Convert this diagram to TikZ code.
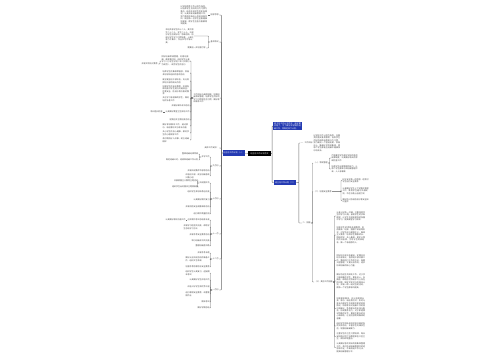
\documentclass[tikz,border=0pt]{standalone}
\usepackage{fontspec}
\setmainfont{Noto Sans CJK SC}
\XeTeXlinebreaklocale "zh"
\XeTeXlinebreakskip = 0pt plus 0.5pt
\definecolor{mapblue}{RGB}{36,58,178}
\definecolor{mapgray}{RGB}{70,70,70}
\definecolor{mapline}{RGB}{105,105,105}
\newcommand{\mapfont}{\fontsize{2}{2.5}\selectfont}
\begin{document}
\begin{tikzpicture}[x=1pt,y=-1pt]
        \tikzstyle{plan}=[fill=black,text=white,font=\mapfont,minimum width=23pt,minimum height=5pt,inner sep=0.5pt]
        \tikzstyle{part}=[fill=mapblue,text=white,font=\mapfont,minimum height=5.5pt,inner sep=1pt,align=left]
        \tikzstyle{item}=[text=mapgray,font=\mapfont,inner sep=0.3pt,align=left]
        \tikzstyle{lft}=[item,anchor=east]
        \tikzstyle{rgt}=[item,anchor=west]
        \tikzstyle{edge}=[draw=mapline,line width=0.45pt,rounded corners=0.5pt]
        \useasboundingbox (0,0) rectangle (500,360);
       \begin{scope}
         \node [plan] (root) at (259.5,153.5) {班主任工作计划范文};
         \node [part] (l0) at (233.5,153) {班主任工作计划（一）};
         \node [part,anchor=west,text width=27pt] (r0a) at (273,126) {班主任工作计划范文：新学期开始了，为了做好本学期的班级工作，特制定如下计划。};
         \node [part,anchor=west] (r0b) at (274,182.5) {班主任工作计划（二）};
         \path[edge] (root) -- (l0);
         \path[edge] (root.east) -- ++(1,0) |- (r0a.west);
         \path[edge] (root.east) -- ++(1,0) |- (r0b.west);
       \end{scope}
       \begin{scope}
         \node [lft] (a1) at (219,15) {指导思想};
         \node [lft] (a2) at (219,42) {基本情况};
         \node [lft,text width=26pt] (a3) at (220,98) {工作目标与具体措施：加强班级常规管理，培养学生良好的学习习惯和生活习惯，做好家校联系工作};
         \node [lft] (a4) at (219,148) {具体工作安排：};
         \node [lft] (a5) at (219,166) {九月份};
         \node [lft] (a6) at (219,199) {十月份};
         \node [lft] (a7) at (219,234) {十一月};
         \node [lft] (a8) at (219,259) {十二月};
         \node [lft] (a9) at (219,290) {一月份};
         \path[edge] (l0.west) -- ++(-1,0) |- (a1.east);
         \path[edge] (l0.west) -- ++(-1,0) |- (a2.east);
         \path[edge] (l0.west) -- ++(-1,0) |- (a3.east);
         \path[edge] (l0.west) -- ++(-1,0) |- (a4.east);
         \path[edge] (l0.west) -- ++(-1,0) |- (a5.east);
         \path[edge] (l0.west) -- ++(-1,0) |- (a6.east);
         \path[edge] (l0.west) -- ++(-1,0) |- (a7.east);
         \path[edge] (l0.west) -- ++(-1,0) |- (a8.east);
         \path[edge] (l0.west) -- ++(-1,0) |- (a9.east);

         \node [lft,text width=27pt] (b1) at (208,15) {以学校德育工作计划为指导，以培养学生良好的行为习惯为重点，结合本班学生的实际情况，认真开展班级管理工作，努力营造积极向上的班风和学风，促进每一位学生全面健康地发展，使学生在各方面都得到提高。};
         \path[edge] (a1.west) -- (b1.east);
         \node [lft,text width=28pt] (b2) at (194,36) {本班共有学生四十二人，其中男生二十二人，女生二十人。大部分学生活泼好动，思维活跃，但部分学生学习习惯较差，上课注意力不集中，作业书写不够认真。};
         \node [lft] (b3) at (206,48) {需要进一步加强引导};
         \path[edge] (a2.west) -- ++(-1.5,0) |- (b2.east);
         \path[edge] (a2.west) -- ++(-1.5,0) |- (b3.east);

         \node [lft,text width=28pt] (c1) at (190,61) {抓好班级常规管理，利用班会课、晨会等时间，组织学生认真学习《小学生守则》和《日常行为规范》，规范学生的言行};
         \node [lft] (c1g) at (158,64) {开展文明礼仪教育};
         \node [lft,text width=27pt] (c2) at (190,73) {培养学生的集体荣誉感，积极参加学校组织的各项活动};
         \node [lft,text width=27pt] (c3) at (190,81) {建立健全班干部队伍，充分发挥班干部的带头作用};
         \node [lft,text width=27pt] (c4) at (190,90) {加强学生的安全教育，利用各种机会对学生进行交通安全、饮食安全、防溺水等方面的教育};
         \node [lft,text width=27pt] (c5) at (190,99) {关注学习有困难的学生，做好培优补差工作};
         \node [lft] (c6) at (190,106) {开展好课外读书活动};
         \node [lft] (c7) at (190,112) {认真做好教室卫生保洁工作};
         \node [lft] (c7g) at (163,112) {每日值日检查};
         \node [lft] (c8) at (190,120) {定期召开主题班会活动};
         \node [lft,text width=27pt] (c9) at (190,126) {做好家校联系工作，通过家访、电话等形式与家长沟通};
         \node [lft,text width=27pt] (c10) at (190,133) {关心学生的身心健康，做好学生的心理疏导工作};
         \node [lft,text width=27pt] (c11) at (190,140) {及时表扬好人好事，树立班级榜样};
         \path[edge] (a3.west) -- ++(-2,0) |- (c1.east);
         \path[edge] (a3.west) -- ++(-2,0) |- (c2.east);
         \path[edge] (a3.west) -- ++(-2,0) |- (c3.east);
         \path[edge] (a3.west) -- ++(-2,0) |- (c4.east);
         \path[edge] (a3.west) -- ++(-2,0) |- (c5.east);
         \path[edge] (a3.west) -- ++(-2,0) |- (c6.east);
         \path[edge] (a3.west) -- ++(-2,0) |- (c7.east);
         \path[edge] (a3.west) -- ++(-2,0) |- (c8.east);
         \path[edge] (a3.west) -- ++(-2,0) |- (c9.east);
         \path[edge] (a3.west) -- ++(-2,0) |- (c10.east);
         \path[edge] (a3.west) -- ++(-2,0) |- (c11.east);
         \path[edge] (c1.west) -- ++(-1,0) |- (c1g.east);
         \path[edge] (c7.west) -- (c7g.east);

         \node [lft] (d1) at (210,157) {开学工作};
         \node [lft] (d1a) at (198.5,154) {整顿班级纪律常规};
         \node [lft] (d1b) at (198.5,160) {制定班级公约、班规和班级工作计划};
         \node [lft] (d2) at (210,170.5) {开展庆祝教师节感恩活动};
         \node [lft,text width=24pt] (d3) at (210,176) {评选班干部，成立班级各种兴趣小组};
         \path[edge] (a5.west) -- ++(-1.5,0) |- (d1.east);
         \path[edge] (a5.west) -- ++(-1.5,0) |- (d2.east);
         \path[edge] (a5.west) -- ++(-1.5,0) |- (d3.east);
         \path[edge] (d1.west) -- ++(-1.5,0) |- (d1a.east);
         \path[edge] (d1.west) -- ++(-1.5,0) |- (d1b.east);

         \node [lft] (e1) at (210,183) {庆祝国庆节};
         \node [lft] (e1a) at (198.5,181) {开展爱国主义教育主题活动};
         \node [lft] (e1b) at (198.5,187) {组织学生出好国庆主题黑板报};
         \node [lft] (e2) at (210,192) {组织学生参加秋季运动会};
         \node [lft] (e3) at (210,200) {认真做好期中复习};
         \node [lft] (e4) at (210,207) {开展消防安全疏散演练活动};
         \node [lft] (e5) at (210,214) {进行期中质量检测};
         \path[edge] (a6.west) -- ++(-1.5,0) |- (e1.east);
         \path[edge] (a6.west) -- ++(-1.5,0) |- (e2.east);
         \path[edge] (a6.west) -- ++(-1.5,0) |- (e3.east);
         \path[edge] (a6.west) -- ++(-1.5,0) |- (e4.east);
         \path[edge] (a6.west) -- ++(-1.5,0) |- (e5.east);
         \path[edge] (e1.west) -- ++(-1.5,0) |- (e1a.east);
         \path[edge] (e1.west) -- ++(-1.5,0) |- (e1b.east);

         \node [lft] (f1) at (210,220) {召开期中考试总结家长会};
         \node [lft] (f1g) at (186,220) {认真做好家校沟通工作};
         \node [lft,text width=26pt] (f2) at (210,227) {开展学习经验交流会，帮助学生总结学习方法};
         \node [lft] (f3) at (210,235) {开展冬季安全教育活动};
         \node [lft] (f4) at (210,241) {举行班级读书交流会};
         \node [lft] (f5) at (210,246) {整理班级图书角};
         \path[edge] (a7.west) -- ++(-1.5,0) |- (f1.east);
         \path[edge] (a7.west) -- ++(-1.5,0) |- (f2.east);
         \path[edge] (a7.west) -- ++(-1.5,0) |- (f3.east);
         \path[edge] (a7.west) -- ++(-1.5,0) |- (f4.east);
         \path[edge] (a7.west) -- ++(-1.5,0) |- (f5.east);
         \path[edge] (f1.west) -- (f1g.east);

         \node [lft] (g1) at (210,253) {开展冬季长跑};
         \node [lft,text width=24pt] (g2) at (210,259.5) {做好元旦庆祝活动的准备工作，组织文艺表演};
         \node [lft] (g3) at (210,267) {加强冬季防寒防冻安全教育};
         \path[edge] (a8.west) -- ++(-1.5,0) |- (g1.east);
         \path[edge] (a8.west) -- ++(-1.5,0) |- (g2.east);
         \path[edge] (a8.west) -- ++(-1.5,0) |- (g3.east);

         \node [lft,text width=24pt] (h1) at (210,273) {组织学生认真复习，迎接期末考试};
         \node [lft] (h2) at (210,280) {认真做好学生评语工作};
         \node [lft] (h3) at (210,287) {评选三好学生和优秀干部};
         \node [lft,text width=24pt] (h4) at (210,294) {进行寒假安全教育，布置寒假作业};
         \node [lft] (h5) at (210,302) {期末考试};
         \node [lft] (h6) at (210,308) {做好学期总结};
         \path[edge] (a9.west) -- ++(-1.5,0) |- (h1.east);
         \path[edge] (a9.west) -- ++(-1.5,0) |- (h2.east);
         \path[edge] (a9.west) -- ++(-1.5,0) |- (h3.east);
         \path[edge] (a9.west) -- ++(-1.5,0) |- (h4.east);
         \path[edge] (a9.west) -- ++(-1.5,0) |- (h5.east);
         \path[edge] (a9.west) -- ++(-1.5,0) |- (h6.east);
       \end{scope}
       \begin{scope}
         \node [rgt] (r1) at (300,143) {一、工作目标};
         \node [rgt,text width=27pt] (r1c) at (313,143) {以学校工作计划为指导，全面贯彻落实素质教育，培养学生良好的道德品质和行为习惯，努力建设一个团结友爱、积极向上、勤奋好学的班集体，使每个学生都能在班级中健康快乐地成长。};
         \node [rgt] (r2) at (302,223) {二、措施};
         \path[edge] (r0b.east) -- ++(2.5,0) |- (r1.west);
         \path[edge] (r0b.east) -- ++(2.5,0) |- (r2.west);
         \path[edge] (r1.east) -- (r1c.west);

         \node [rgt] (r21) at (313,163) {（一）常规管理};
         \node [rgt,text width=26pt] (r21a) at (331,158) {严格要求学生遵守学校的各项规章制度，认真做好每天的常规检查工作};
         \node [rgt,text width=26pt] (r21b) at (331,169) {培养学生自我管理的能力，让每个学生都参与到班级管理中来，人人有事做};
         \node [rgt] (r22) at (313,191.5) {（二）加强安全教育};
         \node [rgt,text width=26pt] (r22a) at (342,180.5) {树立安全第一的思想，经常对学生进行安全教育};
         \node [rgt,text width=26pt] (r22b) at (342,191) {认真做好学生上下学路队管理工作，教育学生遵守交通规则，不在马路上追逐打闹};
         \node [rgt,text width=26pt] (r22c) at (342,200.5) {做好防火防电防溺水等安全知识宣传};
         \node [rgt] (r23) at (314,282) {（三）其他工作措施};
         \path[edge] (r2.east) -- ++(1.5,0) |- (r21.west);
         \path[edge] (r2.east) -- ++(1.5,0) |- (r22.west);
         \path[edge] (r2.east) -- ++(1.5,0) |- (r23.west);
         \path[edge] (r21.east) -- ++(1.5,0) |- (r21a.west);
         \path[edge] (r21.east) -- ++(1.5,0) |- (r21b.west);
         \path[edge] (r22.east) -- ++(9,0) |- (r22a.west);
         \path[edge] (r22.east) -- ++(9,0) |- (r22b.west);
         \path[edge] (r22.east) -- ++(9,0) |- (r22c.west);

         \node [rgt,text width=29pt] (s1) at (336,216) {认真上好每一节课，注重培养学生的学习兴趣，激发学生的求知欲望，让学生在轻松愉快的氛围中学习，提高课堂学习效率。};
         \node [rgt,text width=29pt] (s2) at (336,235) {加强学生的思想品德教育，利用晨会、班会、国旗下讲话等形式，对学生进行爱国主义、集体主义教育，培养学生尊敬师长、团结同学、关心集体、爱护公物的良好品质，引导学生明辨是非，做一个有道德的人。};
         \node [rgt,text width=29pt] (s3) at (336,260.5) {抓好班干部队伍建设，定期召开班干部会议，指导班干部开展工作，教给他们工作的方法，既要大胆管理，又要以身作则，逐步形成班级的核心力量。};
         \node [rgt,text width=29pt] (s4) at (336,281) {做好后进生的转化工作，对于学习有困难的学生，要多关心、多鼓励，帮助他们找出学习上存在的问题，制定切实可行的帮扶计划，开展一帮一结对互助活动，使每一个学生都有所提高。};
         \node [rgt,text width=29pt] (s5) at (336,308.5) {加强家校联系，充分利用家长会、家访、电话等方式，及时与家长沟通学生在校和在家的表现情况，听取家长对班级工作的意见和建议，争取家长的支持与配合，形成教育合力。对于家庭情况特殊的学生，要给予更多的关心和帮助，让他们感受到集体的温暖。};
         \node [rgt,text width=29pt] (s6) at (336,326) {组织学生积极参加学校开展的各项文体活动，丰富学生的课余生活，增强班级凝聚力。};
         \node [rgt,text width=29pt] (s7) at (336,336.5) {注重学生的卫生习惯培养，每天安排值日生打扫教室和包干区卫生，保持环境整洁。};
         \node [rgt,text width=29pt] (s8) at (336,347.5) {认真做好各项资料的收集和整理工作，及时总结班级管理中的经验和不足，不断改进工作方法，提高班级管理水平。};
         \path[edge] (r23.east) -- ++(1.5,0) |- (s1.west);
         \path[edge] (r23.east) -- ++(1.5,0) |- (s2.west);
         \path[edge] (r23.east) -- ++(1.5,0) |- (s3.west);
         \path[edge] (r23.east) -- ++(1.5,0) |- (s4.west);
         \path[edge] (r23.east) -- ++(1.5,0) |- (s5.west);
         \path[edge] (r23.east) -- ++(1.5,0) |- (s6.west);
         \path[edge] (r23.east) -- ++(1.5,0) |- (s7.west);
         \path[edge] (r23.east) -- ++(1.5,0) |- (s8.west);
       \end{scope}
      \end{tikzpicture}
\end{document}
